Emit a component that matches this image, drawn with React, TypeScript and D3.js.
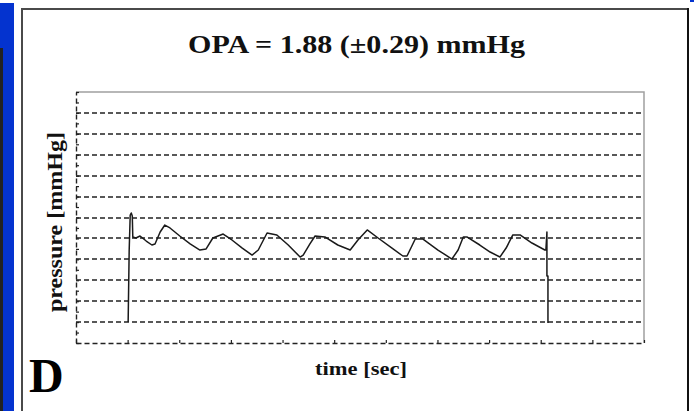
import React, { useEffect, useRef } from "react";
import * as d3 from "d3";

// tiempo en segundos
const timeSec = [
  1.01, 1.03, 1.05, 1.07, 1.09, 1.1, 1.16, 1.24, 1.36, 1.47, 1.53, 1.63, 1.72,
  1.82, 2.01, 2.21, 2.4, 2.52, 2.65, 2.85, 3.02, 3.22, 3.41, 3.53, 3.7, 3.89,
  4.11, 4.34, 4.4, 4.53, 4.63, 4.82, 5.07, 5.31, 5.46, 5.64, 5.85, 6.12, 6.33,
  6.41, 6.57, 6.72, 7.01, 7.28, 7.4, 7.5, 7.57, 7.82, 8.02, 8.21, 8.33, 8.46,
  8.6, 8.83, 9.08, 9.1, 9.12, 9.12, 9.14, 9.14,
];
// presion en mmHg
const pressureMmHg = [
  2.01, 8.89, 12.24, 12.43, 12.14, 10.14, 10.04, 10.23, 9.75, 9.37, 9.47,
  10.61, 11.28, 11.0, 10.23, 9.47, 8.89, 8.99, 10.04, 10.42, 9.85, 9.08, 8.41,
  8.89, 10.52, 10.33, 9.37, 8.22, 8.41, 9.47, 10.23, 10.14, 9.37, 8.89, 9.85,
  10.81, 10.04, 9.08, 8.32, 8.32, 9.94, 9.94, 8.89, 8.03, 8.89, 10.14, 10.14,
  9.37, 8.7, 8.22, 9.08, 10.33, 10.33, 9.56, 8.89, 8.89, 10.61, 6.41, 6.41,
  1.91,
];
const xDomain = [0, 11];
const yDomain = [0, 24];
const xTicks = d3.range(0, 12, 1);
const yTicks = d3.range(0, 25, 1);
const gridValues = d3.range(2, 24, 2);

const title = "OPA = 1.88 (±0.29) mmHg";
const yLabel = "pressure [mmHg]";
const xLabel = "time [sec]";
const panelLetter = "D";

const App = () => {
  const svgRef = useRef(null);
  const W = 694;
  const H = 411;

  const draw = () => {
    const svg = d3.select(svgRef.current);
    svg.selectAll("*").remove();

    const x = d3.scaleLinear().domain(xDomain).range([76, 644]);
    const y = d3.scaleLinear().domain(yDomain).range([343, 92]);

    // marco azul de la diapositiva
    svg.append("rect").attr("x", 0).attr("y", 3).attr("width", 14).attr("height", H).attr("fill", "#0433cf");
    svg.append("rect").attr("x", 0).attr("y", 48).attr("width", 3).attr("height", H).attr("fill", "#222");
    svg.append("rect").attr("x", 690).attr("y", 0).attr("width", 4).attr("height", 2).attr("fill", "#0433cf");

    // marco del panel
    svg.append("line").attr("x1", 22).attr("x2", 22).attr("y1", 8).attr("y2", H).attr("stroke", "#4a4a4a").attr("stroke-width", 2);
    svg.append("line").attr("x1", 21).attr("x2", 689).attr("y1", 9).attr("y2", 9).attr("stroke", "#4a4a4a").attr("stroke-width", 2);
    svg.append("line").attr("x1", 688).attr("x2", 688).attr("y1", 8).attr("y2", H).attr("stroke", "#111").attr("stroke-width", 2);

    // lineas de la grilla
    svg
      .append("g")
      .selectAll("line")
      .data(gridValues)
      .enter()
      .append("line")
      .attr("x1", x(xDomain[0]))
      .attr("x2", x(xDomain[1]))
      .attr("y1", (d) => Math.round(y(d)))
      .attr("y2", (d) => Math.round(y(d)))
      .attr("stroke", "#222")
      .attr("stroke-width", 1.4)
      .attr("stroke-dasharray", "5,3");

    // borde superior y derecho gris
    svg.append("path")
      .attr("d", `M${x(xDomain[0])},${y(yDomain[1])}H${x(xDomain[1])}V${y(yDomain[0])}`)
      .attr("fill", "none")
      .attr("stroke", "#a0a0a0")
      .attr("stroke-width", 1.5);

    // ejes punteados
    const yAxis = svg
      .append("g")
      .attr("transform", `translate(${x(xDomain[0])},0)`)
      .call(d3.axisRight(y).tickValues(yTicks).tickSize(3).tickSizeOuter(0).tickFormat(() => ""));
    yAxis.select(".domain").attr("stroke", "#222").attr("stroke-width", 1.4).attr("stroke-dasharray", "5,3");
    yAxis.selectAll(".tick line").attr("stroke", "#222").attr("stroke-width", 1.2);

    const xAxis = svg
      .append("g")
      .attr("transform", `translate(0,${y(yDomain[0])})`)
      .call(d3.axisTop(x).tickValues(xTicks).tickSize(3).tickSizeOuter(0).tickFormat(() => ""));
    xAxis.select(".domain").attr("stroke", "#222").attr("stroke-width", 1.4).attr("stroke-dasharray", "5,3");
    xAxis.selectAll(".tick line").attr("stroke", "#222").attr("stroke-width", 1.2);

    // curva de presion
    const pts = timeSec.map((t, i) => [t, pressureMmHg[i]]);
    const line = d3
      .line()
      .x((d) => x(d[0]))
      .y((d) => y(d[1]));
    svg
      .append("path")
      .datum(pts)
      .attr("d", line)
      .attr("fill", "none")
      .attr("stroke", "#1a1a1a")
      .attr("stroke-width", 1.5)
      .attr("stroke-linejoin", "round");

    const font = "'Liberation Serif', 'Times New Roman', serif";

    svg
      .append("text")
      .attr("x", 188)
      .attr("y", 53)
      .attr("textLength", 337)
      .attr("lengthAdjust", "spacingAndGlyphs")
      .style("font-family", font)
      .style("font-weight", "bold")
      .style("font-size", "25px")
      .attr("fill", "#111")
      .text(title);

    svg
      .append("text")
      .attr("transform", "translate(62,312) rotate(-90)")
      .attr("textLength", 180)
      .attr("lengthAdjust", "spacingAndGlyphs")
      .style("font-family", font)
      .style("font-weight", "bold")
      .style("font-size", "22px")
      .attr("fill", "#111")
      .text(yLabel);

    svg
      .append("text")
      .attr("x", 315)
      .attr("y", 375)
      .attr("textLength", 92)
      .attr("lengthAdjust", "spacingAndGlyphs")
      .style("font-family", font)
      .style("font-weight", "bold")
      .style("font-size", "19px")
      .attr("fill", "#111")
      .text(xLabel);

    svg
      .append("text")
      .attr("x", 29)
      .attr("y", 392)
      .style("font-family", font)
      .style("font-weight", "bold")
      .style("font-size", "48px")
      .attr("fill", "#000")
      .text(panelLetter);
  };

  useEffect(() => {
    document.body.style.margin = "0";
    if (svgRef.current) draw();
  }, []);

  return (
    <svg
      ref={svgRef}
      width={W}
      height={H}
      style={{ display: "block", position: "absolute", left: 0, top: 0, background: "#fff" }}
    />
  );
};

export default App;
